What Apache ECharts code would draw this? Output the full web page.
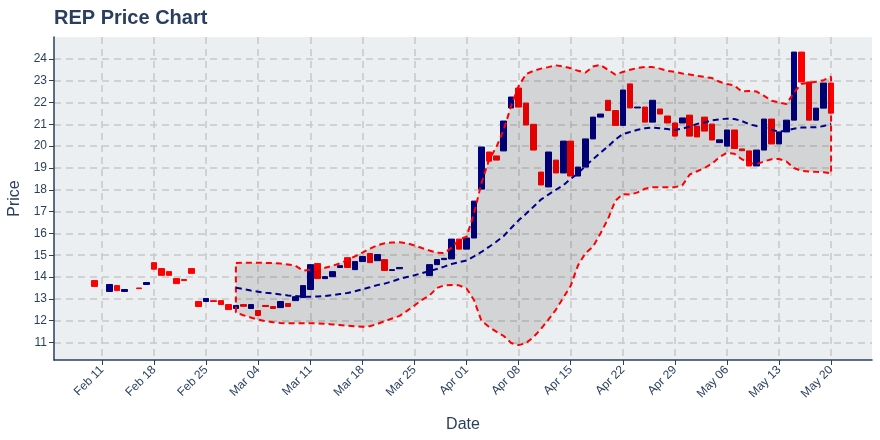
<!DOCTYPE html>
<html><head><meta charset="utf-8">
<script src="https://cdn.jsdelivr.net/npm/echarts@6/dist/echarts.min.js"></script>
<style>html,body{margin:0;padding:0;background:#fff}#c{width:880px;height:440px}</style>
</head><body><div id="c"></div>
<script>
// ---- data ----
const candleDates = ['2019-02-10','2019-02-12','2019-02-13','2019-02-14','2019-02-16','2019-02-17','2019-02-18','2019-02-19','2019-02-20','2019-02-21','2019-02-22','2019-02-23','2019-02-24','2019-02-25','2019-02-26','2019-02-27','2019-02-28',
'2019-03-01','2019-03-02','2019-03-03','2019-03-04','2019-03-05','2019-03-06','2019-03-07','2019-03-08','2019-03-09','2019-03-10','2019-03-11','2019-03-12','2019-03-13','2019-03-14','2019-03-15','2019-03-16','2019-03-17','2019-03-18','2019-03-19','2019-03-20','2019-03-21','2019-03-22','2019-03-23',
'2019-03-27','2019-03-28','2019-03-29','2019-03-30','2019-03-31','2019-04-01','2019-04-02','2019-04-03','2019-04-04','2019-04-05','2019-04-06','2019-04-07','2019-04-08','2019-04-09','2019-04-10','2019-04-11','2019-04-12','2019-04-13','2019-04-14','2019-04-15','2019-04-16','2019-04-17','2019-04-18','2019-04-19','2019-04-20','2019-04-21','2019-04-22','2019-04-23','2019-04-24','2019-04-25','2019-04-26','2019-04-27','2019-04-28','2019-04-29','2019-04-30',
'2019-05-01','2019-05-02','2019-05-03','2019-05-04','2019-05-05','2019-05-06','2019-05-07','2019-05-08','2019-05-09','2019-05-10','2019-05-11','2019-05-12','2019-05-13','2019-05-14','2019-05-15','2019-05-16','2019-05-17','2019-05-18','2019-05-19','2019-05-20'];
const candleOpen = [13.84,13.34,13.61,13.34,13.50,13.66,14.66,14.39,14.25,13.93,13.89,14.39,12.88,12.88,12.92,12.92,12.74,
12.56,12.74,12.56,12.47,12.70,12.65,12.60,12.79,12.92,13.06,13.43,14.62,13.93,14.02,14.44,14.89,14.34,14.71,15.08,14.75,14.80,14.30,14.38,
14.07,14.57,14.80,14.83,15.74,15.28,15.79,18.03,19.73,19.55,19.78,21.75,22.66,21.97,21.00,18.81,18.13,19.36,18.77,20.23,18.63,19.04,20.33,21.33,22.10,21.63,20.95,22.85,21.75,21.79,21.10,21.70,21.38,21.06,21.06,
21.42,20.92,21.33,21.01,20.16,20.00,20.74,19.87,19.78,19.09,19.82,21.24,20.10,20.65,21.19,24.31,22.94,21.19,21.74,22.89];
const candleClose = [13.57,13.66,13.38,13.43,13.47,13.75,14.36,14.08,14.08,13.70,13.84,14.17,12.65,13.02,12.88,12.74,12.51,
12.70,12.66,12.74,12.24,12.65,12.56,12.88,12.65,13.10,13.61,14.57,13.93,14.02,14.25,14.52,14.44,14.71,14.94,14.66,15.03,14.30,14.34,14.44,
14.57,14.80,14.86,15.74,15.28,15.79,17.48,19.96,19.31,19.36,21.15,22.25,21.79,20.97,19.82,18.22,19.73,18.77,20.23,18.63,19.04,20.33,21.33,21.47,21.63,20.95,22.57,21.75,21.79,21.10,22.10,21.47,21.06,20.46,21.29,
20.46,20.42,20.69,20.28,20.29,20.74,19.89,19.79,19.09,19.82,21.24,20.10,20.65,21.19,24.31,22.94,21.19,21.74,22.89,21.51];

const bandDates = ['03-01','03-02','03-03','03-04','03-05','03-06','03-07','03-08','03-09','03-10','03-11','03-12','03-13','03-14','03-15','03-16','03-17','03-18','03-19','03-20','03-21','03-22','03-23','03-24','03-25','03-26','03-27','03-28','03-29','03-30','03-31',
'04-01','04-02','04-03','04-04','04-05','04-06','04-07','04-08','04-09','04-10','04-11','04-12','04-13','04-14','04-15','04-16','04-17','04-18','04-19','04-20','04-21','04-22','04-23','04-24','04-25','04-26','04-27','04-28','04-29','04-30',
'05-01','05-02','05-03','05-04','05-05','05-06','05-07','05-08','05-09','05-10','05-11','05-12','05-13','05-14','05-15','05-16','05-17','05-18','05-19','05-20'];
const bandUpper = [14.65,14.66,14.66,14.66,14.65,14.64,14.62,14.58,14.52,14.30,14.33,14.37,14.43,14.52,14.63,14.78,14.95,15.12,15.30,15.45,15.55,15.58,15.60,15.55,15.45,15.33,15.22,15.12,15.10,15.35,15.72,
15.85,16.90,18.30,19.35,19.95,20.75,21.85,22.75,23.30,23.45,23.55,23.62,23.70,23.65,23.57,23.45,23.37,23.65,23.72,23.50,23.28,23.40,23.50,23.58,23.63,23.62,23.55,23.45,23.40,23.33,
23.28,23.22,23.17,23.12,22.95,22.85,22.78,22.50,22.53,22.50,22.30,22.08,22.00,21.93,22.45,22.85,22.90,22.95,23.02,23.18];
const bandMid = [13.51,13.45,13.38,13.33,13.28,13.25,13.20,13.16,13.13,13.10,13.10,13.11,13.13,13.17,13.22,13.27,13.35,13.44,13.53,13.63,13.70,13.80,13.92,14.00,14.08,14.18,14.27,14.37,14.48,14.60,14.68,
14.76,14.95,15.15,15.38,15.62,15.88,16.25,16.60,16.90,17.22,17.55,17.78,18.00,18.20,18.50,18.75,19.10,19.40,19.70,19.98,20.30,20.55,20.65,20.75,20.82,20.85,20.82,20.78,20.74,20.80,
20.90,21.02,21.08,21.18,21.22,21.26,21.24,21.15,21.00,20.92,20.85,20.75,20.66,20.72,20.80,20.85,20.86,20.86,20.92,21.01];
const bandLower = [12.38,12.25,12.15,12.05,11.98,11.93,11.90,11.88,11.88,11.88,11.88,11.88,11.86,11.83,11.80,11.77,11.74,11.72,11.75,11.85,11.98,12.10,12.22,12.45,12.70,12.95,13.15,13.50,13.62,13.64,13.62,
13.48,12.95,12.00,11.72,11.50,11.30,10.98,10.88,10.98,11.25,11.62,12.05,12.50,13.05,13.60,14.55,15.10,15.40,16.00,16.65,17.50,17.80,17.78,17.88,18.05,18.11,18.11,18.11,18.12,18.20,
18.70,18.85,19.00,19.20,19.50,19.70,19.65,19.40,19.22,19.18,19.30,19.40,19.41,19.30,19.00,18.87,18.84,18.82,18.80,18.75];

const xTickDates = ['2019-02-11','2019-02-18','2019-02-25','2019-03-04','2019-03-11','2019-03-18','2019-03-25','2019-04-01','2019-04-08','2019-04-15','2019-04-22','2019-04-29','2019-05-06','2019-05-13','2019-05-20'];
const yTicks = [11,12,13,14,15,16,17,18,19,20,21,22,23,24];

// ---- helpers ----
const MONTHS = ['Jan','Feb','Mar','Apr','May','Jun','Jul','Aug','Sep','Oct','Nov','Dec'];
const BASE = Date.UTC(2019,1,11);
function dayNum(s){ const p = s.split('-').map(Number); return (Date.UTC(p[0],p[1]-1,p[2]) - BASE)/864e5; }
function fmtDay(v){ const d = new Date(BASE + Math.round(v)*864e5); const dd = d.getUTCDate(); return MONTHS[d.getUTCMonth()] + ' ' + (dd<10?'0':'') + dd; }

const candleData = candleDates.map((s,i)=>{ const o=candleOpen[i], c=candleClose[i]; return [dayNum(s), o, c, Math.min(o,c), Math.max(o,c)]; });
const bandX = bandDates.map(s=>dayNum('2019-'+s));
const upperPts = bandX.map((x,i)=>[x, bandUpper[i]]);
const lowerPts = bandX.map((x,i)=>[x, bandLower[i]]);
const outline = upperPts.concat(lowerPts.slice().reverse(), [upperPts[0]]);
const midPts = bandX.map((x,i)=>[x, bandMid[i]]);
const xTicks = xTickDates.map(dayNum);

const FONT = 'Liberation Sans, Arial, sans-serif';
const TXT = '#2a3f5f';

const chart = echarts.init(document.getElementById('c'), null, {renderer:'canvas'});
chart.setOption({
  animation: false,
  backgroundColor: '#ffffff',
  title: { text: 'REP Price Chart', left: 54, top: 8, padding: 0,
    textStyle: { fontFamily: FONT, fontSize: 20, fontWeight: 'bold', color: TXT } },
  grid: { left: 54, right: 8, top: 37, bottom: 80, show: true, backgroundColor: '#eceff1', borderWidth: 0,
    containLabel: false, outerBoundsMode: 'none' },
  xAxis: {
    type: 'value', min: -6.45, max: 103.5,
    name: 'Date', nameLocation: 'middle', nameGap: 57,
    nameTextStyle: { fontFamily: FONT, fontSize: 16, color: TXT },
    axisLine: { show: true, onZero: false, lineStyle: { color: TXT, width: 1.5 } },
    axisTick: { show: true, length: 5, customValues: xTicks, lineStyle: { color: TXT, width: 1 } },
    axisLabel: { customValues: xTicks, rotate: 45, margin: 8, formatter: fmtDay,
      fontFamily: FONT, fontSize: 12, color: TXT },
    splitLine: { show: true, lineStyle: { color: '#c8c8c8', width: 1.5, type: [7,5] } }
  },
  yAxis: {
    type: 'value', min: 10.2, max: 25.0,
    name: 'Price', nameLocation: 'middle', nameGap: 29,
    nameTextStyle: { fontFamily: FONT, fontSize: 16, color: TXT },
    axisLine: { show: true, onZero: false, lineStyle: { color: TXT, width: 1.5 } },
    axisTick: { show: true, length: 5, customValues: yTicks, lineStyle: { color: TXT, width: 1 } },
    axisLabel: { customValues: yTicks, margin: 7, fontFamily: FONT, fontSize: 12, color: TXT },
    splitLine: { show: true, lineStyle: { color: '#c8c8c8', width: 1.5, type: [7,5] } }
  },
  series: [
    { type: 'candlestick', data: candleData, encode: { x: 0, y: [1,2,3,4] },
      barWidth: 6, z: 2,
      itemStyle: { color: '#000080', color0: '#ff0000', borderColor: '#000080', borderColor0: '#ff0000', borderWidth: 1 } },
    { type: 'custom', z: 3, silent: true, data: [[bandX[0], bandUpper[0]]],
      renderItem: function(params, api){
        const pts = outline.map(p=>api.coord(p));
        return { type: 'polygon', shape: { points: pts }, style: { fill: 'rgba(0,0,0,0.11)' } };
      } },
    { type: 'line', data: outline, symbol: 'none', z: 4, silent: true,
      lineStyle: { color: '#ff0000', width: 2, type: [6,4] } },
    { type: 'line', data: midPts, symbol: 'none', z: 4, silent: true,
      lineStyle: { color: '#00008b', width: 2, type: [6,4] } }
  ]
});
</script></body></html>
